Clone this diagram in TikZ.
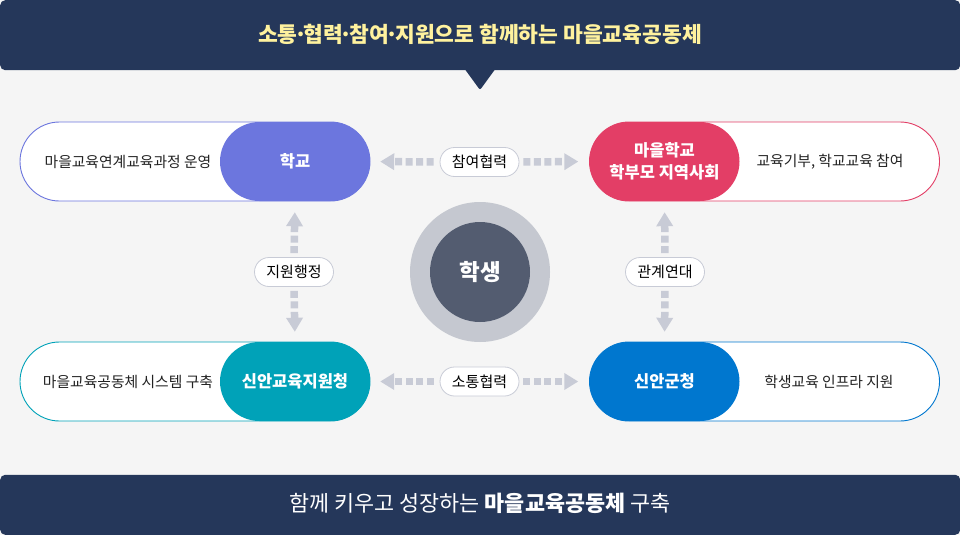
\documentclass[tikz,border=0pt]{standalone}
\usepackage{fontspec}
\setmainfont{Noto Sans CJK KR}
\usetikzlibrary{arrows.meta}
\definecolor{navy}{RGB}{37,55,90}
\definecolor{hdrtext}{RGB}{255,242,158}
\definecolor{bgc}{RGB}{245,245,245}
\definecolor{cA}{RGB}{108,118,222}
\definecolor{cB}{RGB}{227,62,102}
\definecolor{cC}{RGB}{0,162,184}
\definecolor{cD}{RGB}{0,119,207}
\definecolor{arrc}{RGB}{200,203,214}
\definecolor{ringc}{RGB}{197,200,208}
\definecolor{corec}{RGB}{83,92,112}
\definecolor{desct}{RGB}{34,34,34}
\newcommand{\mdot}{\kern-3.5pt·\kern-3.5pt}
\tikzset{
  bar/.style={fill=navy, rounded corners=5pt, inner sep=0pt, minimum width=960pt},
  whitepill/.style={fill=white, line width=0.9pt, rounded corners=39.5pt, minimum width=350pt, minimum height=79pt, inner sep=0pt},
  colpill/.style={rounded corners=39.5pt, minimum width=150pt, minimum height=79pt, inner sep=0pt, text=white, font=\bfseries\fontsize{16.5}{21.5}\selectfont, align=center},
  desc/.style={text=desct, font=\fontsize{14.8}{17}\selectfont, inner sep=0pt},
  lbl/.style={fill=white, draw=arrc, line width=0.8pt, rounded corners=14.5pt, minimum height=29pt, minimum width=79pt, inner sep=0pt, font=\fontsize{15}{17}\selectfont, text=black},
  arr/.style={draw=arrc, line width=7.5pt, dash pattern=on 7pt off 3.5pt, -{Triangle[width=16pt,length=14pt,fill=arrc]}},
}
\begin{document}
\begin{tikzpicture}[x=1pt,y=-1pt]
\fill[bgc] (0,0) rectangle (960,535);
\useasboundingbox (0,0) rectangle (960,535);
% header
\node[bar, minimum height=70pt, anchor=north west] (hdr) at (0,0) {};
\fill[navy, rounded corners=2pt] (464,68) -- (480,90) -- (496,68) -- cycle;
\node[text=hdrtext, font=\bfseries\fontsize{21.5}{24}\selectfont, inner sep=0pt] (hdrtxt) at (480,34) {소통\mdot 협력\mdot 참여\mdot 지원으로 함께하는 마을교육공동체};
% footer
\node[bar, minimum height=60pt, anchor=south west] (ftr) at (0,535) {};
\node[text=white, font=\fontsize{21.8}{24}\selectfont, inner sep=0pt] (ftrtxt) at (480,503) {함께 키우고 성장하는 \textbf{마을교육공동체} 구축};
% pills
\node[whitepill, draw=cA] (pA) at (195,161.5) {};
\node[colpill, fill=cA] (school) at (295,161.5) {학교};
\node[desc] (dA) at (128,161.5) {마을교육연계교육과정 운영};

\node[whitepill, draw=cB] (pB) at (764.5,161.5) {};
\node[colpill, fill=cB] (village) at (664.5,161.5) {마을학교\\학부모 지역사회};
\node[desc] (dB) at (830,161.5) {교육기부, 학교교육 참여};

\node[whitepill, draw=cC] (pC) at (195,381.5) {};
\node[colpill, fill=cC] (office) at (295,381.5) {신안교육지원청};
\node[desc] (dC) at (128,381.5) {마을교육공동체 시스템 구축};

\node[whitepill, draw=cD] (pD) at (764.5,381.5) {};
\node[colpill, fill=cD] (county) at (664.5,381.5) {신안군청};
\node[desc] (dD) at (829,381.5) {학생교육 인프라 지원};
% center
\node[circle, fill=ringc, minimum size=140pt, inner sep=0pt] (ring) at (480,272) {};
\node[circle, fill=corec, minimum size=100pt, inner sep=0pt, text=white, font=\bfseries\fontsize{22.5}{26}\selectfont] (student) at (480,272) {학생};
% labels
\node[lbl] (l1) at (479.5,162) {참여협력};
\node[lbl] (l2) at (479.5,381.5) {소통협력};
\node[lbl] (l3) at (294,272) {지원행정};
\node[lbl] (l4) at (665,272) {관계연대};
% arrows
\draw[arr, shorten <=6pt, shorten >=10pt] (l1.west) -- (school.east);
\draw[arr, shorten <=4pt, shorten >=11pt] (l1.east) -- (village.west);
\draw[arr, shorten <=6pt, shorten >=10pt] (l2.west) -- (office.east);
\draw[arr, shorten <=4pt, shorten >=11pt] (l2.east) -- (county.west);
\draw[arr, shorten <=4pt, shorten >=11pt] (l3.north) -- (school.south);
\draw[arr, shorten <=4pt, shorten >=10pt] (l3.south) -- (office.north);
\draw[arr, shorten <=4pt, shorten >=11pt] (l4.north) -- (village.south);
\draw[arr, shorten <=4pt, shorten >=10pt] (l4.south) -- (county.north);
\end{tikzpicture}
\end{document}
